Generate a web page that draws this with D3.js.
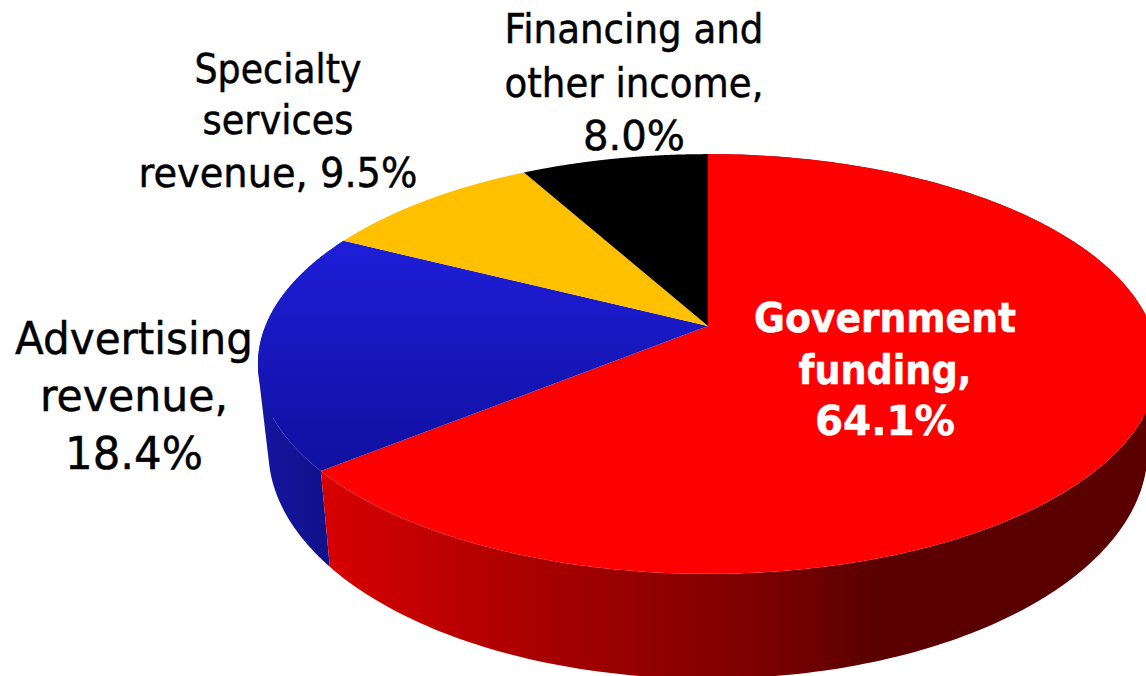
<!DOCTYPE html>
<html><head><meta charset="utf-8">
<script src="https://cdn.jsdelivr.net/npm/d3@7/dist/d3.min.js"></script>
<style>html,body{margin:0;padding:0;background:#fff;overflow:hidden}svg{display:block}</style>
</head><body><svg id="c" width="1146" height="676"></svg>
<script>
// Data, clockwise from 12 o'clock
const categories = ["Government funding", "Advertising revenue", "Specialty services revenue", "Financing and other income"];
const shares = [64.1, 18.4, 9.5, 8.0];
const labelLines = [
  ["Government", "funding,", "64.1%"],
  ["Advertising", "revenue,", "18.4%"],
  ["Specialty", "services", "revenue, 9.5%"],
  ["Financing and", "other income,", "8.0%"]
];

// Styling and layout
const topColors = ["#ff0000", "url(#blueTop)", "#ffc000", "#000000"];
const wallColors = ["url(#redWall)", "url(#blueWall)", "#b08000", "#000"];
const labelLayout = [
  {x: 885, base: [332, 384, 435], size: 41, bold: true, fill: "#fff", w: [262, 173, 140]},
  {x: 134, base: [354, 411, 469], size: 45, fill: "#000", w: [238, 188, 138]},
  {x: 278, base: [83, 134, 187], size: 40, fill: "#000", w: [167, 151, 279]},
  {x: 634, base: [43, 97, 150], size: 41, fill: "#000", w: [259, 259, 102]}
];
const topDisc = {cx: 708, cy: 326, a: 442.6, b: 203, k: 0.181};
const baseDisc = {cx: 708, cy: 409, a: 432.4, b: 220.9, k: 0.181};

const svg = d3.select("#c");
const defs = svg.append("defs");
function grad(id, x1, y1, x2, y2, stops) {
  const g = defs.append("linearGradient").attr("id", id).attr("gradientUnits", "userSpaceOnUse")
    .attr("x1", x1).attr("y1", y1).attr("x2", x2).attr("y2", y2);
  stops.forEach(([o, c]) => g.append("stop").attr("offset", o).attr("stop-color", c));
}
grad("redWall", 322, 0, 880, 0, [[0, "#d80000"], [0.39, "#a80000"], [0.75, "#800000"], [0.87, "#700000"], [0.925, "#640000"], [1, "#5a0000"]]);
grad("blueWall", 258, 0, 332, 0, [[0, "#1616a0"], [1, "#10108a"]]);
grad("blueTop", 0, 240, 0, 470, [[0, "#1e1ed8"], [1, "#1010a0"]]);

// Angle on the disc -> picture position, with the perspective of the tilted pie
const project = (disc, angle) => {
  const u = Math.sin(angle), v = -Math.cos(angle), w = 1 - disc.k * v;
  return [disc.cx + disc.a * u / w, disc.cy + disc.b * v / w];
};
const arcAngles = (s, e) => d3.range(0, 241).map(i => s + (e - s) * i / 240);
const line = d3.line();

const arcs = d3.pie().sort(null).value(d => d)(shares);

// Walls: blue then red, so red sits in front. Each wall is swept strip by strip.
const wallLayer = svg.append("g");
[1, 0].forEach(i => {
  const a = arcs[i], angs = arcAngles(a.startAngle, a.endAngle);
  const d = d3.pairs(angs).map(([t0, t1]) => {
    const q = [project(topDisc, t0), project(topDisc, t1), project(baseDisc, t1), project(baseDisc, t0)];
    if (d3.polygonArea(q) < 0) q.reverse();
    return line(q) + "Z";
  }).join("");
  wallLayer.append("path").attr("d", d).attr("fill", wallColors[i]);
});

// Top faces
svg.append("g").selectAll("path").data(arcs).join("path")
  .attr("d", a => line([[topDisc.cx, topDisc.cy]].concat(arcAngles(a.startAngle, a.endAngle).map(t => project(topDisc, t)))) + "Z")
  .attr("fill", (a, i) => topColors[i]);

// Labels
labelLines.forEach((lines, i) => {
  const l = labelLayout[i];
  lines.forEach((t, j) => {
    svg.append("text").text(t)
      .attr("x", l.x).attr("y", l.base[j]).attr("text-anchor", "middle")
      .attr("font-family", "'DejaVu Sans', sans-serif")
      .attr("font-size", l.size).attr("font-weight", l.bold ? 700 : 400)
      .attr("fill", l.fill).attr("stroke", l.fill).attr("stroke-width", 0.5)
      .attr("textLength", l.w[j]).attr("lengthAdjust", "spacingAndGlyphs");
  });
});
</script></body></html>
